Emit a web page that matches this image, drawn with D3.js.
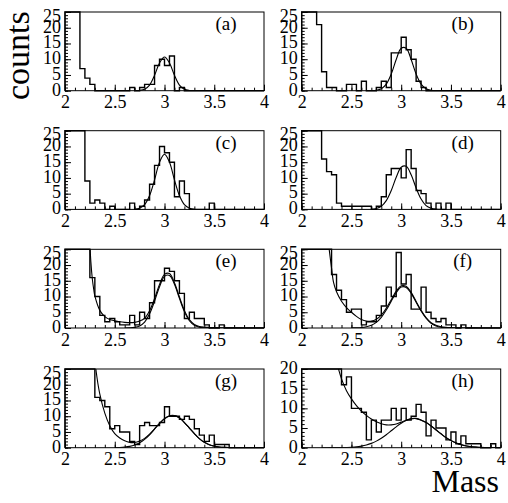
<!DOCTYPE html>
<html>
<head>
<meta charset="utf-8">
<script src="https://cdn.jsdelivr.net/npm/d3@7"></script>
<style>
    body { margin: 0; background: #fff; }
    text { font-family: "Liberation Serif", "DejaVu Serif", "Times New Roman", Times, serif; fill: #000; }
</style>
</head>
<body>
<div id="chart"></div>
<script>
/** Bin edges (40 bins of 0.05 between 2 and 4) */
var binEdges = [2.00, 2.05, 2.10, 2.15, 2.20, 2.25, 2.30, 2.35, 2.40, 2.45,
    2.50, 2.55, 2.60, 2.65, 2.70, 2.75, 2.80, 2.85, 2.90, 2.95,
    3.00, 3.05, 3.10, 3.15, 3.20, 3.25, 3.30, 3.35, 3.40, 3.45,
    3.50, 3.55, 3.60, 3.65, 3.70, 3.75, 3.80, 3.85, 3.90, 3.95, 4.00];

/** Counts per bin, one array per panel (values above the frame are cut at the top) */
var countsA = [60, 50, 30, 7, 4, 2, 0, 0, 0, 0, 0, 0, 0, 1, 0, 1, 2, 2, 8, 10,
    8, 11, 0, 1, 0, 0, 0, 0, 0, 0, 0, 0, 0, 0, 0, 0, 0, 0, 0, 0];
var countsB = [60, 50, 35, 21, 6, 1, 1, 0, 0, 2, 2, 0, 3, 0, 0, 1, 3, 1, 12, 12,
    17, 13, 10, 3, 1, 0, 0, 0, 0, 0, 0, 0, 0, 0, 0, 0, 0, 0, 0, 0];
var countsC = [60, 50, 40, 30, 9, 2, 3, 2, 0, 1, 0, 0, 0, 2, 0, 1, 3, 8, 14, 20,
    18, 15, 4, 9, 5, 0, 0, 0, 0, 2, 0, 0, 0, 0, 0, 0, 0, 0, 0, 0];
var countsD = [60, 50, 40, 30, 16, 12, 11, 2, 1, 1, 1, 1, 1, 1, 0, 1, 4, 11, 13, 13,
    10, 19, 13, 6, 5, 2, 0, 2, 0, 2, 0, 0, 0, 0, 0, 0, 0, 0, 0, 0];
var countsE = [60, 50, 45, 40, 35, 16, 10, 4, 2, 3, 2, 1, 1, 4, 1, 5, 3, 8, 15, 15,
    19, 18, 15, 11, 3, 5, 3, 3, 1, 0, 0, 1, 0, 0, 0, 0, 0, 0, 0, 0];
var countsF = [60, 55, 50, 45, 40, 35, 17, 12, 9, 5, 6, 6, 1, 2, 2, 4, 7, 13, 10, 24,
    14, 17, 6, 6, 13, 5, 3, 2, 3, 1, 1, 0, 1, 0, 0, 0, 0, 0, 0, 0];
var countsG = [60, 55, 50, 45, 40, 35, 16, 15, 13, 6, 7, 5, 5, 2, 1, 7, 8, 7, 7, 8,
    13, 10, 10, 9, 10, 9, 6, 4, 2, 4, 1, 1, 1, 0, 0, 0, 0, 0, 0, 0];
var countsH = [60, 55, 50, 45, 40, 35, 30, 25, 16, 18, 10, 10, 9, 2, 7, 4, 7, 7, 10, 7,
    10, 7, 8, 11, 9, 3, 7, 5, 5, 2, 4, 1, 3, 1, 1, 1, 0, 0, 1, 0];

/** Fit curves: [mass, counts] */
var fitA = [[2.7, 0], [2.75, 0.08], [2.8, 0.47], [2.85, 1.8], [2.9, 4.9], [2.95, 8.8], [3.0, 10.7],
    [3.05, 8.8], [3.1, 4.9], [3.15, 1.8], [3.2, 0.47], [3.25, 0.08], [3.3, 0]];
var fitB = [[2.7, 0.02], [2.75, 0.1], [2.8, 0.6], [2.85, 2.1], [2.9, 5.3], [2.95, 9.9], [3.0, 13.5],
    [3.05, 13.5], [3.1, 9.9], [3.15, 5.3], [3.2, 2.1], [3.25, 0.6], [3.3, 0.1], [3.35, 0.02]];
var fitC = [[2.7, 0.07], [2.75, 0.4], [2.8, 1.5], [2.85, 4.4], [2.9, 9.4], [2.95, 15.0], [3.0, 17.5],
    [3.05, 15.0], [3.1, 9.4], [3.15, 4.4], [3.2, 1.5], [3.25, 0.4], [3.3, 0.07]];
var fitD = [[2.7, 0.06], [2.75, 0.28], [2.8, 1.0], [2.85, 2.8], [2.9, 6.0], [2.95, 10.2], [3.0, 13.4],
    [3.05, 13.7], [3.1, 11.0], [3.15, 6.8], [3.2, 3.3], [3.25, 1.2], [3.3, 0.37], [3.35, 0.08], [3.4, 0.01]];

var totalE = [[2.24, 33], [2.245, 30], [2.25, 27], [2.26, 21], [2.275, 15.5], [2.29, 12], [2.3, 10.2],
    [2.35, 5.6], [2.4, 3.6], [2.45, 2.7], [2.5, 2.3], [2.55, 2.0], [2.6, 1.8], [2.65, 1.7], [2.7, 1.8],
    [2.75, 2.2], [2.8, 3.1], [2.85, 5.5], [2.9, 9.35], [2.95, 13.85], [3.0, 17.05], [3.05, 17.3],
    [3.1, 14.4], [3.15, 9.85], [3.2, 5.6], [3.25, 2.65], [3.3, 1.15], [3.35, 0.5], [3.4, 0.26],
    [3.45, 0.17], [3.5, 0.12], [3.6, 0.06], [3.8, 0.02], [4.0, 0.01]];
var signalE = [[2.6, 0.01], [2.65, 0.04], [2.7, 0.19], [2.75, 0.67], [2.8, 1.9], [2.85, 4.5], [2.9, 8.5],
    [2.95, 13.1], [3.0, 16.4], [3.05, 16.7], [3.1, 13.9], [3.15, 9.4], [3.2, 5.2], [3.25, 2.3],
    [3.3, 0.85], [3.35, 0.25], [3.4, 0.06], [3.45, 0.01]];

var totalF = [[2.26, 32], [2.27, 27], [2.28, 24], [2.3, 19], [2.32, 14.5], [2.35, 11.5], [2.4, 8.5],
    [2.45, 6.5], [2.5, 5.0], [2.55, 3.7], [2.6, 2.7], [2.65, 2.2], [2.7, 2.2], [2.75, 2.8], [2.8, 4.1],
    [2.85, 6.3], [2.9, 9.0], [2.95, 11.7], [3.0, 13.4], [3.05, 13.25], [3.1, 11.3], [3.15, 8.45],
    [3.2, 5.6], [3.25, 3.3], [3.3, 1.7], [3.35, 0.85], [3.4, 0.4], [3.45, 0.2], [3.5, 0.12],
    [3.6, 0.06], [3.8, 0.02], [4.0, 0.01]];
var signalF = [[2.5, 0.03], [2.55, 0.06], [2.6, 0.15], [2.65, 0.4], [2.7, 0.9], [2.75, 1.8], [2.8, 3.4],
    [2.85, 5.7], [2.9, 8.5], [2.95, 11.2], [3.0, 13.0], [3.05, 12.9], [3.1, 11.0], [3.15, 8.2],
    [3.2, 5.4], [3.25, 3.1], [3.3, 1.5], [3.35, 0.65], [3.4, 0.25], [3.45, 0.08], [3.5, 0.02]];

var totalG = [[2.29, 32], [2.31, 25], [2.35, 17], [2.4, 11], [2.45, 7], [2.5, 4.5], [2.55, 3.1],
    [2.6, 2.2], [2.65, 1.7], [2.7, 1.65], [2.75, 2.1], [2.8, 2.95], [2.85, 4.3], [2.9, 6.0],
    [2.95, 7.75], [3.0, 9.25], [3.05, 10.15], [3.1, 10.2], [3.15, 9.5], [3.2, 8.0], [3.25, 6.25],
    [3.3, 4.5], [3.35, 2.9], [3.4, 1.75], [3.45, 0.97], [3.5, 0.49], [3.55, 0.23], [3.6, 0.1],
    [3.65, 0.04], [3.7, 0.01], [4.0, 0]];
var signalG = [[2.5, 0.03], [2.55, 0.08], [2.6, 0.19], [2.65, 0.42], [2.7, 0.85], [2.75, 1.57],
    [2.8, 2.65], [2.85, 4.1], [2.9, 5.9], [2.95, 7.7], [3.0, 9.2], [3.05, 10.1], [3.1, 10.2],
    [3.15, 9.5], [3.2, 8.0], [3.25, 6.25], [3.3, 4.5], [3.35, 2.9], [3.4, 1.75], [3.45, 0.97],
    [3.5, 0.49], [3.55, 0.23], [3.6, 0.1], [3.65, 0.04], [3.7, 0.01]];

var totalH = [[2.33, 25], [2.35, 22], [2.37, 20], [2.4, 17.5], [2.45, 14.5], [2.5, 12.4], [2.55, 10.7],
    [2.6, 9.3], [2.65, 8.2], [2.7, 7.3], [2.75, 6.6], [2.8, 6.1], [2.85, 5.8], [2.9, 5.8], [2.95, 6.0],
    [3.0, 6.5], [3.05, 7.0], [3.1, 7.4], [3.15, 7.45], [3.2, 7.05], [3.25, 6.45], [3.3, 5.55],
    [3.35, 4.55], [3.4, 3.55], [3.45, 2.6], [3.5, 1.85], [3.55, 1.25], [3.6, 0.8], [3.65, 0.5],
    [3.7, 0.3], [3.75, 0.17], [3.8, 0.1], [3.9, 0.04], [4.0, 0.02]];
var signalH = [[2.2, 0], [2.3, 0.01], [2.4, 0.03], [2.5, 0.12], [2.55, 0.22], [2.6, 0.41], [2.65, 0.69],
    [2.7, 1.1], [2.75, 1.67], [2.8, 2.4], [2.85, 3.3], [2.9, 4.3], [2.95, 5.3], [3.0, 6.2], [3.05, 6.9],
    [3.1, 7.33], [3.15, 7.4], [3.2, 7.0], [3.25, 6.4], [3.3, 5.5], [3.35, 4.5], [3.4, 3.5], [3.45, 2.55],
    [3.5, 1.8], [3.55, 1.2], [3.6, 0.76], [3.65, 0.45], [3.7, 0.26], [3.75, 0.14], [3.8, 0.07],
    [3.85, 0.03], [3.9, 0.015], [4.0, 0.003]];

/** Axis labels */
var panelNames = ["(a)", "(b)", "(c)", "(d)", "(e)", "(f)", "(g)", "(h)"];
var xTickLabels = [2, 2.5, 3, 3.5, 4];
var yTickLabels25 = [0, 5, 10, 15, 20, 25];
var yTickLabels20 = [0, 5, 10, 15, 20];
var yTitle = "counts";
var xTitle = "Mass";

var panels = [
    { name: panelNames[0], counts: countsA, fits: [fitA], yTicks: yTickLabels25 },
    { name: panelNames[1], counts: countsB, fits: [fitB], yTicks: yTickLabels25 },
    { name: panelNames[2], counts: countsC, fits: [fitC], yTicks: yTickLabels25 },
    { name: panelNames[3], counts: countsD, fits: [fitD], yTicks: yTickLabels25 },
    { name: panelNames[4], counts: countsE, fits: [totalE, signalE], yTicks: yTickLabels25 },
    { name: panelNames[5], counts: countsF, fits: [totalF, signalF], yTicks: yTickLabels25 },
    { name: panelNames[6], counts: countsG, fits: [totalG, signalG], yTicks: yTickLabels25 },
    { name: panelNames[7], counts: countsH, fits: [totalH, signalH], yTicks: yTickLabels20 }
];

/** SVG */
var width = 508,
    height = 503;

var svg = d3
    .select("#chart")
    .append("svg")
    .attr("width", width)
    .attr("height", height);

// position of the frames
var colLeft = [65, 301.7],
    plotW = 199;
var rowTop = [12, 130.7, 249.3, 369],
    plotH = 78.7;

var minorX = d3.range(2, 4.001, 0.1);

panels.forEach(function (p, i) {
    var left = colLeft[i % 2];
    var top = rowTop[Math.floor(i / 2)];
    var ymax = p.yTicks[p.yTicks.length - 1];

    var x = d3.scaleLinear().domain([2, 4]).range([0, plotW]);
    var y = d3.scaleLinear().domain([0, ymax]).range([plotH, 0]).clamp(true);
    var yFit = y.copy().clamp(false);
    var minorY = d3.range(0, ymax + 0.001, 1);

    var g = svg.append("g").attr("transform", "translate(" + left + "," + top + ")");

    g.append("clipPath")
        .attr("id", "clip" + i)
        .append("rect")
        .attr("width", plotW)
        .attr("height", plotH);

    // minor ticks
    g.append("g")
        .attr("class", "axis")
        .attr("transform", "translate(0," + plotH + ")")
        .call(d3.axisBottom(x).tickValues(minorX).tickSize(-3).tickSizeOuter(0).tickFormat(""));
    g.append("g")
        .attr("class", "axis")
        .call(d3.axisLeft(y).tickValues(minorY).tickSize(-3).tickSizeOuter(0).tickFormat(""));

    // major ticks with their labels
    g.append("g")
        .attr("class", "axis")
        .attr("transform", "translate(0," + plotH + ")")
        .call(d3.axisBottom(x).tickValues(xTickLabels).tickSize(-6).tickPadding(5)
            .tickSizeOuter(0).tickFormat(function (d) { return String(d); }));
    var ya = g.append("g")
        .attr("class", "axis")
        .call(d3.axisLeft(y).tickValues(p.yTicks).tickSize(-6).tickPadding(4)
            .tickSizeOuter(0).tickFormat(function (d) { return String(d); }));
    // the 25 label sits a bit lower, inside the frame height
    ya.selectAll(".tick text")
        .attr("dy", function (d) { return d === 25 ? "0.5em" : "0.24em"; });

    g.selectAll(".axis .domain").remove();
    g.selectAll(".axis line").attr("stroke", "#000").attr("stroke-width", 1);
    g.selectAll(".axis text")
        .attr("font-size", 18)
        .attr("fill", "#000");

    // histogram outline
    var pts = [[2, 0]];
    p.counts.forEach(function (c, j) {
        pts.push([binEdges[j], c]);
        pts.push([binEdges[j + 1], c]);
    });
    pts.push([4, 0]);

    var histLine = d3.line()
        .x(function (d) { return x(d[0]); })
        .y(function (d) { return y(d[1]); });

    g.append("path")
        .attr("d", histLine(pts))
        .attr("fill", "none")
        .attr("stroke", "#000")
        .attr("stroke-width", 1.4);

    // fitted curves
    var fitLine = d3.line()
        .x(function (d) { return x(d[0]); })
        .y(function (d) { return yFit(d[1]); })
        .curve(d3.curveCatmullRom.alpha(0.5));

    p.fits.forEach(function (f) {
        g.append("path")
            .attr("clip-path", "url(#clip" + i + ")")
            .attr("d", fitLine(f))
            .attr("fill", "none")
            .attr("stroke", "#000")
            .attr("stroke-width", 1.1);
    });

    // frame
    g.append("rect")
        .attr("width", plotW)
        .attr("height", plotH)
        .attr("fill", "none")
        .attr("stroke", "#000")
        .attr("stroke-width", 1);

    // panel name
    g.append("text")
        .attr("x", plotW - 38)
        .attr("y", 18)
        .attr("text-anchor", "middle")
        .attr("font-size", 19)
        .text(p.name);
});

// titles
svg.append("text")
    .attr("transform", "translate(29,100) rotate(-90)")
    .attr("font-size", 34)
    .text(yTitle);

svg.append("text")
    .attr("x", 499)
    .attr("y", 492)
    .attr("text-anchor", "end")
    .attr("font-size", 32)
    .text(xTitle);
</script>
</body>
</html>
